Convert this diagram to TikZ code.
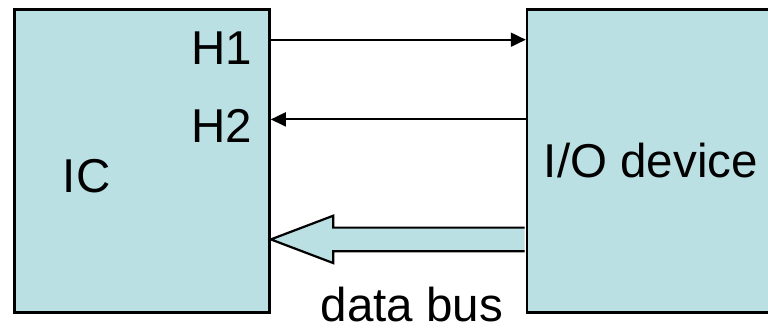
\documentclass[tikz,border=0pt]{standalone}
\usepackage{fontspec}
\setmainfont{Liberation Sans}
\usetikzlibrary{arrows.meta,calc}
\definecolor{boxfill}{HTML}{BBE0E3}
\tikzset{
  unitbox/.style={draw=black, line width=2.6pt, fill=boxfill, inner sep=0pt},
  lbl/.style={inner sep=0pt, font=\fontsize{47.5}{52}\selectfont},
  sig/.style={line width=1.9pt, -{Triangle[length=15pt,width=14pt]}},
  busarrow/.style={line width=2.2pt, line join=miter}
}
\begin{document}
\begin{tikzpicture}[x=1pt,y=-1pt]
  \useasboundingbox (0,0) rectangle (768,331);
  \clip (0,0) rectangle (768,331);

  % the two blocks
  \node[unitbox, minimum width=255pt, minimum height=303pt] (ic) at (142,161) {};
  \node[unitbox, minimum width=260pt, minimum height=303pt, anchor=west] (io) at (525.8,161) {};

  % handshake lines
  \path (ic.north east) ++(0,31.5) coordinate (h1row);
  \path (ic.north east) ++(0,111.2) coordinate (h2row);
  \draw[sig] (h1row) -- (h1row -| io.west);
  \draw[sig] (h2row -| io.west) -- (h2row);

  % data bus (wide hollow arrow from the device to the IC)
  \path (ic.north east) ++(0,231.2) coordinate (tip);
  \coordinate (tail) at (tip -| io.west);
  \path[fill=boxfill]
    ($(tail)+(-1.3,-11.8)$) -- ($(tip)+(62.5,-11.8)$) -- ($(tip)+(62.5,-23.7)$) -- (tip)
    -- ($(tip)+(62.5,23.7)$) -- ($(tip)+(62.5,11.8)$) -- ($(tail)+(-1.3,11.8)$) -- cycle;
  \draw[busarrow]
    ($(tail)+(-1.3,-11.8)$) -- ($(tip)+(62.5,-11.8)$) -- ($(tip)+(62.5,-23.7)$) -- (tip)
    -- ($(tip)+(62.5,23.7)$) -- ($(tip)+(62.5,11.8)$) -- ($(tail)+(-1.3,11.8)$);

  % labels
  \node[lbl, anchor=base west] (h1) at (191.5,65) {H1};
  \node[lbl, anchor=base west] (h2) at (191.5,143) {H2};
  \node[lbl, anchor=base west] (iclbl) at (62.7,193) {IC};
  \node[lbl, anchor=base west] (iolbl) at (543.7,178) {I/O device};
  \node[lbl, anchor=base west] (buslbl) at (320.4,321.5) {data bus};
\end{tikzpicture}
\end{document}
